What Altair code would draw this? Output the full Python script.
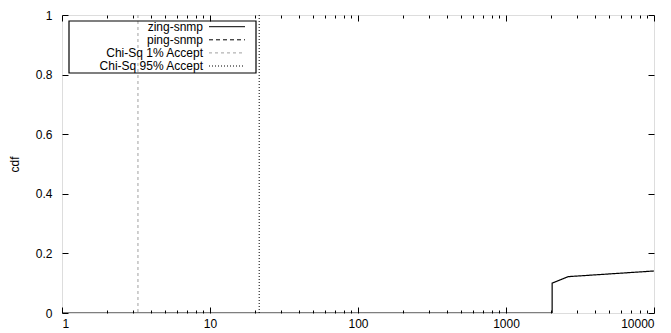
import altair as alt
import pandas as pd

# ---- data ----
series_names = ["zing-snmp", "ping-snmp", "Chi-Sq 1% Accept", "Chi-Sq 95% Accept"]
zing_x = [1, 2050, 2050, 2630, 10000]
zing_y = [0.0, 0.0, 0.100, 0.122, 0.141]
chi_names = ["Chi-Sq 1% Accept", "Chi-Sq 95% Accept"]
chi_x = [3.26, 21.5]

x_major = [1, 10, 100, 1000, 10000]
x_minor = [m * d for d in [1, 10, 100, 1000] for m in range(2, 10)]
x_ticks = sorted(x_major + x_minor)
y_ticks = [0, 0.2, 0.4, 0.6, 0.8, 1.0]

W, H = 592, 298
FONT = "Liberation Sans"
FS = 12

line_df = pd.DataFrame({"series": "zing-snmp", "x": zing_x, "y": zing_y})
rule_df = pd.DataFrame({"series": chi_names, "x": chi_x})
legend_df = pd.DataFrame({"series": series_names, "row": list(range(len(series_names)))})

dash_scale = alt.Scale(domain=series_names,
                       range=[[1, 0], [4, 3], [3, 3], [1, 2]])
color_scale = alt.Scale(domain=series_names,
                        range=["black", "black", "#a0a0a0", "black"])

xscale = alt.Scale(type="log", domain=[1, 10000], nice=False)
yscale = alt.Scale(domain=[0, 1], nice=False)

major_test = "indexof([1,10,100,1000,10000], datum.value) >= 0"
tick_size_cond = {"condition": {"test": major_test, "value": 6}, "value": 3}

# Layer 1: data line + labelled axes (bottom / left), no ticks
line = alt.Chart(line_df).mark_line(strokeWidth=1.2, clip=True).encode(
    x=alt.X("x:Q", scale=xscale,
            axis=alt.Axis(orient="bottom", values=x_major, format="d", ticks=False,
                          domain=False, grid=False, labelPadding=5, title=None,
                          labelFont=FONT, labelFontSize=FS, labelColor="black")),
    y=alt.Y("y:Q", scale=yscale,
            axis=alt.Axis(orient="left", values=y_ticks, format="~g", ticks=False,
                          domain=False, grid=False, labelPadding=10, labelFont=FONT,
                          labelFontSize=FS, labelColor="black", title="cdf",
                          titleFont=FONT, titleFontSize=FS, titleFontWeight="normal",
                          titleColor="black", titlePadding=14)),
    strokeDash=alt.StrokeDash("series:N", scale=dash_scale, legend=None),
    stroke=alt.Stroke("series:N", scale=color_scale, legend=None),
)

# Layer 2: inward ticks on bottom and left edges
ticks_a = alt.Chart(line_df).mark_point(opacity=0).encode(
    x=alt.X("x:Q", scale=xscale,
            axis=alt.Axis(orient="top", offset=-H, values=x_ticks, labels=False,
                          domain=False, grid=False, tickSize=tick_size_cond,
                          tickColor="black", title=None)),
    y=alt.Y("y:Q", scale=yscale,
            axis=alt.Axis(orient="right", offset=-W, values=y_ticks, labels=False,
                          domain=False, grid=False, tickSize=6,
                          tickColor="black", title=None)),
)

# Layer 3: inward ticks on top and right edges
ticks_b = alt.Chart(line_df).mark_point(opacity=0).encode(
    x=alt.X("x:Q", scale=xscale,
            axis=alt.Axis(orient="bottom", offset=-H, values=x_ticks, labels=False,
                          domain=False, grid=False, tickSize=tick_size_cond,
                          tickColor="black", title=None)),
    y=alt.Y("y:Q", scale=yscale,
            axis=alt.Axis(orient="left", offset=-W, values=y_ticks, labels=False,
                          domain=False, grid=False, tickSize=6,
                          tickColor="black", title=None)),
)

# Layer 4: vertical chi-square lines
rules = alt.Chart(rule_df).mark_rule(strokeWidth=1).encode(
    x=alt.X("x:Q", scale=xscale, axis=None),
    strokeDash=alt.StrokeDash("series:N", scale=dash_scale, legend=None),
    stroke=alt.Stroke("series:N", scale=color_scale, legend=None),
)

# Gnuplot-style key (labels left of the line samples), inside a frame
ROW0, ROWH = 11.7, 13.1
key_base = alt.Chart(legend_df).transform_calculate(
    py=f"{ROW0} + datum.row * {ROWH}"
)
key_text = key_base.mark_text(align="right", baseline="middle", font=FONT,
                              fontSize=FS, color="black").encode(
    x=alt.value(141),
    y=alt.Y("py:Q", scale=None, axis=None),
    text="series:N",
)
key_lines = key_base.mark_rule(strokeWidth=1).encode(
    x=alt.value(147), x2=alt.value(183),
    y=alt.Y("py:Q", scale=None, axis=None),
    strokeDash=alt.StrokeDash("series:N", scale=dash_scale, legend=None),
    stroke=alt.Stroke("series:N", scale=color_scale, legend=None),
)
key_frame = alt.Chart(pd.DataFrame({"k": [0]})).mark_rect(
    fill=None, stroke="black", strokeWidth=1.2
).encode(x=alt.value(7), x2=alt.value(194), y=alt.value(6), y2=alt.value(58))

chart = alt.layer(line, ticks_a, ticks_b, rules, key_frame, key_lines, key_text).resolve_scale(
    y="independent"
).resolve_axis(
    x="independent", y="independent"
).properties(
    width=W, height=H,
    autosize=alt.AutoSizeParams(type="none"),
    padding={"left": 62, "top": 15, "right": 17, "bottom": 20},
).configure_view(
    stroke="black", strokeWidth=1.2
).configure(background="white")

chart.save("out.html", embed_options={"renderer": "svg", "actions": False})
